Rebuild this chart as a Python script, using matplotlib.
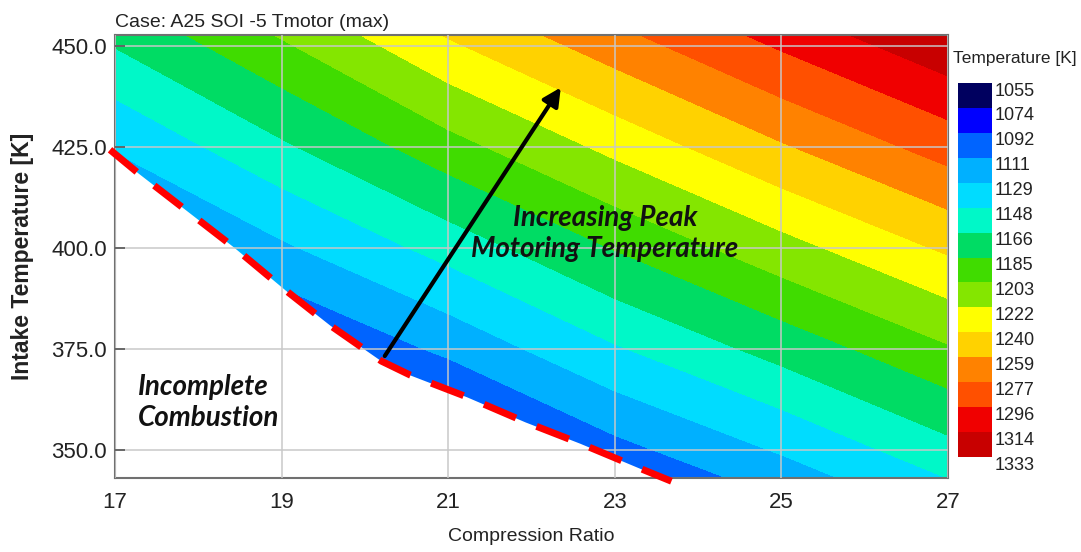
import numpy as np
import matplotlib
matplotlib.use("Agg")
import matplotlib.pyplot as plt
from matplotlib.transforms import ScaledTranslation

plt.rcParams['font.family'] = ['Liberation Sans', 'DejaVu Sans']

# grid: compression ratio x intake temperature -> peak motoring temperature
cr_grid = [17, 19, 21, 23, 25, 27]
tin_grid = [343, 350, 375, 400, 425, 453]
temp_grid = [
    [1014, 1040, 1061, 1094, 1119, 1148],
    [1024, 1050, 1072, 1105, 1131, 1160],
    [1059, 1088, 1115, 1146, 1173, 1201],
    [1095, 1126, 1155, 1186, 1215, 1243],
    [1131, 1163, 1196, 1227, 1257, 1285],
    [1171, 1205, 1242, 1273, 1303, 1331],
]

levels = [1055, 1074, 1092, 1111, 1129, 1148, 1166, 1185, 1203,
          1222, 1240, 1259, 1277, 1296, 1314, 1333]
band_colors = ['#00005f', '#0000ff', '#0064ff', '#00b0ff', '#00dcff',
               '#00f8c8', '#00dc64', '#40dc00', '#84e600', '#ffff00',
               '#ffd200', '#ff8200', '#ff5000', '#f00000', '#c80000']

# incomplete combustion limit (red dashed line)
limit_cr = [16.94, 17.28, 18.42, 19.02, 19.58, 20.2, 20.54, 21.22, 21.92, 22.58, 23.3, 23.68]
limit_tin = [424.3, 418.5, 400.3, 390.0, 380.9, 372.0, 368.6, 363.2, 357.0, 351.7, 345.5, 342.3]

X, Y = np.meshgrid(cr_grid, tin_grid)
Z = np.array(temp_grid, dtype=float)

fig = plt.figure(figsize=(10.81, 5.52), dpi=100)
ax = fig.add_axes([115/1081, 1 - 478/552, (948 - 115)/1081, (478 - 35)/552])

cf = ax.contourf(X, Y, Z, levels=levels, colors=band_colors, zorder=1)
ax.fill_between(limit_cr, limit_tin, 330, color='white', lw=0, zorder=1.5)

ax.set_xlim(17, 27)
ax.set_ylim(343.1, 452.7)
ax.set_xticks([17, 19, 21, 23, 25, 27])
ax.set_yticks([350, 375, 400, 425, 450])
ax.set_yticklabels(['%.1f' % v for v in [350, 375, 400, 425, 450]])
ax.set_axisbelow(False)
ax.grid(True, color='#c8c8c8', lw=1.2, alpha=0.9)
ax.tick_params(axis='x', length=0, pad=10, labelsize=16, labelcolor='#222222')
ax.tick_params(axis='y', direction='in', length=7, width=1.2, color='#555555',
               pad=6, labelsize=16, labelcolor='#222222')
for s in ax.spines.values():
    s.set_color('#707070')
    s.set_linewidth(1.5)

ax.set_xlabel('Compression Ratio', fontsize=14, color='#222222', labelpad=11)
ax.set_ylabel('Intake Temperature [K]', fontsize=16.5, fontweight='bold',
              color='#222222', labelpad=12)
ax.set_title('Case: A25 SOI -5 Tmotor (max)', loc='left', fontsize=14,
             color='#222222', pad=6)

ax.plot(limit_cr, limit_tin, color='#ff0000', lw=5, linestyle=(0, (5, 3.2)),
        solid_capstyle='butt', dash_capstyle='butt', clip_on=False, zorder=3)

ax.annotate('', xy=(22.37, 440.3), xytext=(20.22, 372.7),
            arrowprops=dict(arrowstyle='-|>', color='black', lw=3, mutation_scale=27),
            zorder=4)
ax.text(22.88, 403.5, 'Increasing Peak\nMotoring Temperature', ha='center', va='center',
        family=['Lato', 'DejaVu Sans'], fontsize=20, fontweight='bold', style='italic',
        color='#111111', linespacing=1.25, zorder=5)
ax.text(17.28, 361.8, 'Incomplete\nCombustion', ha='left', va='center',
        family=['Lato', 'DejaVu Sans'], fontsize=20, fontweight='bold', style='italic',
        color='#111111', linespacing=1.25, zorder=5)

# colorbar, 1055 at the top
cax = fig.add_axes([958/1081, 1 - 457/552, 34/1081, (457 - 83)/552])
cbar = fig.colorbar(cf, cax=cax, ticks=levels)
cbar.outline.set_visible(False)
cax.invert_yaxis()
cax.tick_params(length=0, pad=2, labelsize=13, labelcolor='#222222')
cax.set_yticklabels([str(v) for v in levels])
for lab in cax.get_yticklabels():
    lab.set_transform(lab.get_transform() + ScaledTranslation(0, -6/100, fig.dpi_scale_trans))
fig.text(1015/1081, 1 - 58/552, 'Temperature [K]', ha='center', va='center',
         fontsize=12.5, color='#222222')

fig.savefig('out.png', dpi=100)
